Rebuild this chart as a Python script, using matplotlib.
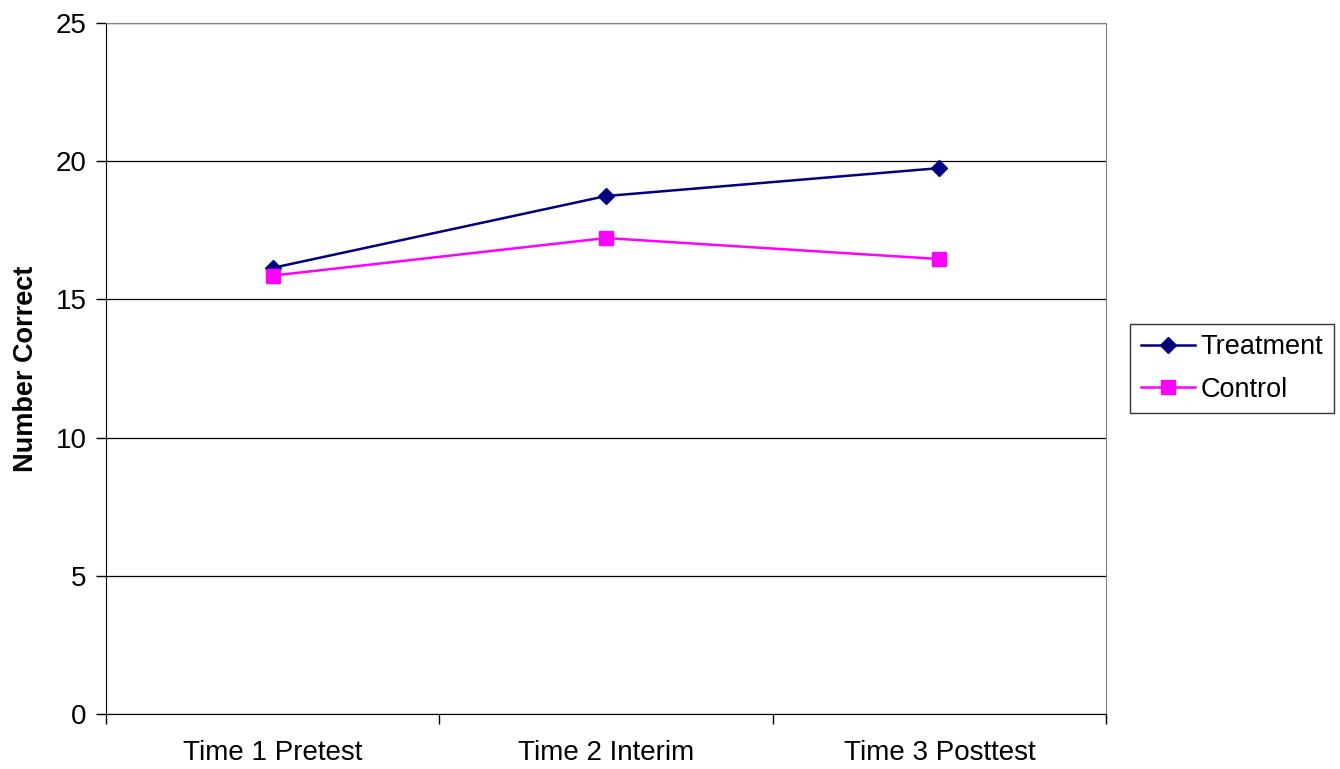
import matplotlib
matplotlib.use("Agg")
import matplotlib.pyplot as plt

plt.rcParams['font.family'] = ['Liberation Sans', 'DejaVu Sans']

categories = ["Time 1 Pretest", "Time 2 Interim", "Time 3 Posttest"]
treatment = [16.14, 18.74, 19.75]
control = [15.86, 17.22, 16.46]
y_ticks = [0, 5, 10, 15, 20, 25]

fig = plt.figure(figsize=(13.4, 7.69), dpi=100)
ax = fig.add_axes([106 / 1340, 55 / 769, 1000 / 1340, 691 / 769])

x = list(range(len(categories)))
ax.plot(x, treatment, color='#000080', lw=1.8, marker='D', ms=8.5,
        label='Treatment', zorder=3)
ax.plot(x, control, color='#FF00FF', lw=1.8, marker='s', ms=10,
        label='Control', zorder=3)

ax.set_xlim(-0.5, len(categories) - 0.5)
ax.set_ylim(0, 25)
ax.set_yticks(y_ticks)
ax.yaxis.grid(True, color='#000000', lw=0.9)
ax.set_axisbelow(True)

# category labels centred, tick marks between categories
ax.set_xticks(x)
ax.set_xticklabels(categories, fontsize=20)
ax.tick_params(axis='x', length=0, pad=19)
ax.set_xticks([-0.5, 0.5, 1.5, 2.5], minor=True)
ax.tick_params(axis='x', which='minor', length=7, width=1, direction='out')
ax.tick_params(axis='y', labelsize=20, length=7, width=1, direction='out', pad=7)

ax.set_ylabel('Number Correct', fontsize=19.5, fontweight='bold', labelpad=12)

for side in ['top', 'right']:
    ax.spines[side].set_color('#808080')
for side in ['left', 'bottom']:
    ax.spines[side].set_color('#000000')

leg = ax.legend(loc='center left', bbox_to_anchor=(1.024, 0.5), fontsize=19.5,
                frameon=True, fancybox=False, edgecolor='#000000',
                handlelength=2.0, borderpad=0.4, labelspacing=0.6,
                handletextpad=0.2, borderaxespad=0)
leg.get_frame().set_linewidth(1)

fig.savefig('out.png', dpi=100)
